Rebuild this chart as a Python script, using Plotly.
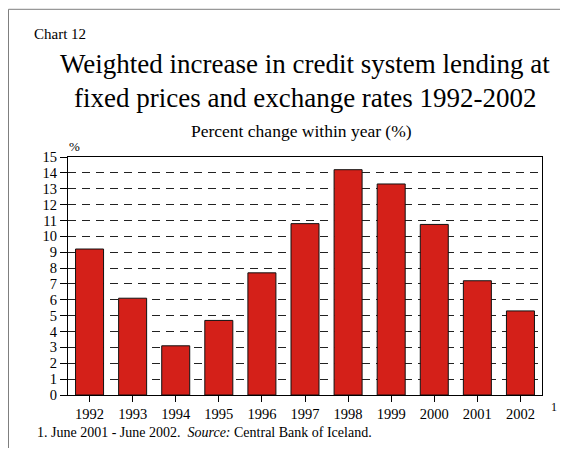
import plotly.graph_objects as go

years = ["1992", "1993", "1994", "1995", "1996", "1997", "1998", "1999", "2000", "2001", "2002"]
values = [9.2, 6.1, 3.1, 4.7, 7.7, 10.8, 14.2, 13.3, 10.75, 7.2, 5.3]
y_ticks = list(range(0, 16))

FONT = "'Liberation Serif', 'Times New Roman', Times, serif"

fig = go.Figure()
fig.add_trace(go.Bar(
    x=years, y=values,
    marker=dict(color="#D42019", line=dict(color="#111111", width=1)),
    width=0.65,
))

# page body has an 8px margin, so figure coordinates = reference pixels - 8
OFF = 8
W, H = 552, 440
L, R, T, B = 60, 18, 148.5, 53
pw = W - L - R
ph = H - T - B

def px_x(px):
    return (px - OFF - L) / pw

def px_y(py):
    return (H - B - (py - OFF)) / ph

fig.update_layout(
    width=W, height=H,
    margin=dict(l=L, r=R, t=T, b=B, pad=0),
    paper_bgcolor="white", plot_bgcolor="white",
    showlegend=False,
    font=dict(family=FONT, color="black", size=14),
)
fig.update_xaxes(
    type="category",
    showline=True, linecolor="black", linewidth=1, mirror=True,
    ticks="outside", ticklen=6, tickcolor="black",
    tickfont=dict(family=FONT, size=14.5),
    showgrid=False,
)
fig.update_yaxes(
    range=[0, 15],
    tickvals=y_ticks,
    showline=True, linecolor="black", linewidth=1, mirror=True,
    ticks="outside", ticklen=7, tickcolor="black",
    tickfont=dict(family=FONT, size=14.5),
    showgrid=True, gridcolor="#222222", gridwidth=1, griddash="8px,6px",
    zeroline=False,
)

# outer frame (top and left edges visible)
fig.add_shape(type="line", xref="paper", yref="paper",
              x0=px_x(8.5), x1=px_x(570), y0=px_y(8.5), y1=px_y(8.5),
              line=dict(color="#7f7f7f", width=1), layer="below")
fig.add_shape(type="line", xref="paper", yref="paper",
              x0=px_x(8.5), x1=px_x(8.5), y0=px_y(8.5), y1=px_y(460),
              line=dict(color="#7f7f7f", width=1), layer="below")

def txt(s, x, y, size, xanchor="left", yanchor="middle"):
    fig.add_annotation(text=s, xref="paper", yref="paper", x=px_x(x), y=px_y(y),
                       xanchor=xanchor, yanchor=yanchor, showarrow=False,
                       font=dict(family=FONT, size=size, color="black"))

txt("Chart 12", 32, 33, 15)
txt("Weighted increase in credit system lending at", 305, 63, 27, xanchor="center")
txt("fixed prices and exchange rates 1992-2002", 305, 97, 27, xanchor="center")
txt("Percent change within year (%)", 301, 130, 17.5, xanchor="center")
txt("%", 67, 146, 13)
txt("1", 549, 407, 12)
txt("1. June 2001 - June 2002.  <i>Source:</i> Central Bank of Iceland.", 35, 433, 14)

fig.write_html("out.html")
